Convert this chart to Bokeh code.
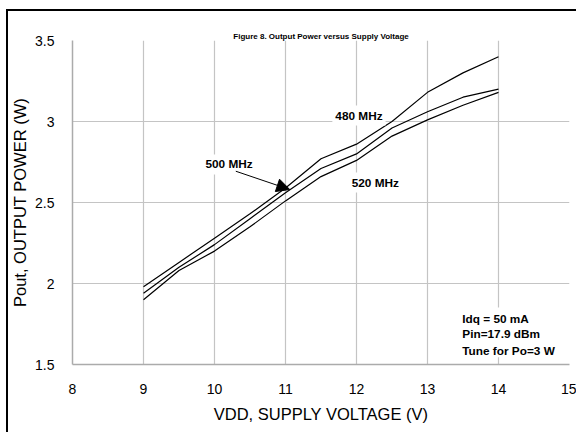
from bokeh.plotting import figure
from bokeh.layouts import column
from bokeh.models import (Label, Arrow, NormalHead, FixedTicker, BoxAnnotation,
                          NumeralTickFormatter, Range1d, LinearAxis, Title,
                          InlineStyleSheet)
from bokeh.embed import file_html
from bokeh.resources import INLINE

# ---- data ----
vdd = [9, 9.5, 10, 10.5, 11, 11.5, 12, 12.5, 13, 13.5, 14]
pout_480 = [1.98, 2.13, 2.28, 2.43, 2.59, 2.77, 2.86, 3.00, 3.18, 3.30, 3.40]
pout_500 = [1.94, 2.10, 2.24, 2.40, 2.56, 2.71, 2.80, 2.96, 3.06, 3.15, 3.20]
pout_520 = [1.90, 2.08, 2.20, 2.35, 2.51, 2.66, 2.76, 2.91, 3.01, 3.10, 3.18]
x_ticks = [8, 9, 10, 11, 12, 13, 14, 15]
y_ticks = [1.5, 2, 2.5, 3, 3.5]
x_grid = [9, 10, 11, 12, 13, 14]
y_grid = [2, 2.5, 3, 3.5]
title_text = "Figure 8. Output Power versus Supply Voltage"
x_title = "VDD, SUPPLY VOLTAGE (V)"
y_title = "Pout, OUTPUT POWER (W)"
cond_lines = ["Idq = 50 mA", "Pin=17.9 dBm", "Tune for Po=3 W"]

FONT = "Liberation Sans"

p = figure(width=576, height=432, output_backend="svg", toolbar_location=None,
           title=None,
           x_range=Range1d(8, 15), y_range=Range1d(1.5, 3.5),
           min_border_left=72, min_border_right=7, min_border_top=40,
           min_border_bottom=68)
p.background_fill_color = "white"
p.border_fill_color = "white"
p.outline_line_color = None

# axes
for ax in (p.xaxis, p.yaxis):
    ax.axis_line_color = "#ababab"
    ax.axis_line_width = 1.5
    ax.major_tick_line_color = None
    ax.minor_tick_line_color = None
    ax.major_label_text_font = FONT
    ax.major_label_text_font_size = "14px"
    ax.major_label_text_color = "black"
    ax.axis_label_text_font = FONT
    ax.axis_label_text_font_size = "16.5px"
    ax.axis_label_text_font_style = "normal"
    ax.axis_label_text_color = "black"
p.xaxis.ticker = FixedTicker(ticks=x_ticks)
p.yaxis.ticker = FixedTicker(ticks=y_ticks)
p.yaxis.formatter = NumeralTickFormatter(format="0.[0]")
p.xaxis.major_label_standoff = 13
p.yaxis.major_label_standoff = 12
p.xaxis.axis_label = x_title
p.yaxis.axis_label = y_title
p.xaxis.axis_label_standoff = 8
p.yaxis.axis_label_standoff = 3

p.xgrid.ticker = FixedTicker(ticks=x_grid)
p.ygrid.ticker = FixedTicker(ticks=y_grid)
p.grid.grid_line_color = "#c4c4c4"
p.grid.grid_line_width = 1.2

# invisible spacer above the frame, then the figure caption at the very top
spacer = LinearAxis(ticker=FixedTicker(ticks=[]), axis_line_color=None,
                    major_tick_out=29, major_tick_in=0, major_tick_line_color="white",
                    minor_tick_line_color=None, major_label_standoff=0)
p.add_layout(spacer, "above")
p.add_layout(Title(text=title_text, text_font=FONT, text_font_size="8px",
                   text_font_style="bold", align="center", standoff=0,
                   text_color="black"), "above")

# curves
for ys in (pout_480, pout_500, pout_520):
    p.line(vdd, ys, line_color="black", line_width=1.2)

# labels with white backgrounds
def lab(x, y, t, align="left"):
    p.add_layout(Label(x=x, y=y, text=t, text_font=FONT, text_font_size="11.8px",
                       text_font_style="bold", text_color="black",
                       text_align=align, text_baseline="middle",
                       background_fill_color="white", padding=3))

lab(11.66, 3.037, "480 MHz")
lab(9.83, 2.735, "500 MHz")
lab(11.89, 2.623, "520 MHz")

# white panel behind the test-condition text (hides the 14 V grid line)
p.add_layout(BoxAnnotation(left=13.43, right=14.45, bottom=1.545, top=1.852,
                           fill_color="white", fill_alpha=1, line_color=None,
                           level="annotation"))
for t, yy in zip(cond_lines, [1.782, 1.689, 1.582]):
    p.add_layout(Label(x=13.49, y=yy, text=t, text_font=FONT, text_font_size="11.8px",
                       text_font_style="bold", text_color="black",
                       text_align="left", text_baseline="middle"))

p.add_layout(Arrow(end=NormalHead(size=13, fill_color="black", line_color="black"),
                   x_start=10.3, y_start=2.693, x_end=11.06, y_end=2.58,
                   line_color="black", line_width=1))

# black left/top edges of the figure box, drawn over the plot by the wrapper
box_css = InlineStyleSheet(css="""
:host { position: relative; }
:host::after {
  content: "";
  position: absolute;
  left: 6px; top: 9px; right: 0; bottom: 0;
  border-left: 2px solid black;
  border-top: 2px solid black;
  pointer-events: none;
  z-index: 100;
}
""")
page = column(p, stylesheets=[box_css])

html = file_html(page, INLINE)
# keep the page from scrolling (no scrollbar over the right edge)
html = html.replace("</head>",
                    "<style>html, body { margin: 0; overflow: hidden; }</style></head>", 1)
open("out.html", "w").write(html)
